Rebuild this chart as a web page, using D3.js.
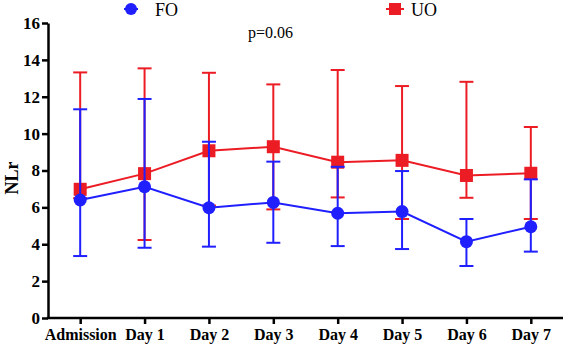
<!DOCTYPE html>
<html>
<head>
<meta charset="utf-8">
<script src="https://cdn.jsdelivr.net/npm/d3@7"></script>
<style>
  html, body { margin: 0; padding: 0; background: #fff; }
  svg, svg text { font-family: 'Liberation Serif', 'Times New Roman', serif !important; }
</style>
</head>
<body>
<div id="chart"></div>
<script>
// days on the x axis
const days = ['Admission', 'Day 1', 'Day 2', 'Day 3', 'Day 4', 'Day 5', 'Day 6', 'Day 7'];

// FO group: mean with lower / upper error limits
const foMean = [6.4, 7.12, 5.98, 6.27, 5.68, 5.77, 4.14, 4.95];
const foLow = [3.36, 3.81, 3.87, 4.08, 3.9, 3.74, 2.82, 3.6];
const foHigh = [11.32, 11.88, 9.56, 8.48, 8.2, 7.97, 5.37, 7.52];

// UO group
const uoMean = [6.98, 7.83, 9.07, 9.29, 8.45, 8.55, 7.73, 7.85];
const uoLow = [6.5, 4.23, 6.1, 5.89, 6.54, 5.37, 6.52, 5.37];
const uoHigh = [13.32, 13.54, 13.3, 12.67, 13.45, 12.58, 12.81, 10.36];

const yTicks = [0, 2, 4, 6, 8, 10, 12, 14, 16];

const width = 566;
const height = 348;
const margin = { top: 23, right: 3, bottom: 30, left: 48 };

const blue = '#1f1fff';
const red = '#ec1c24';

const svg = d3.select('#chart')
  .append('svg')
  .attr('width', width)
  .attr('height', height);

const x = d3.scalePoint()
  .domain(days)
  .range([margin.left, width - margin.right])
  .padding(0.5);

const y = d3.scaleLinear()
  .domain([0, 16])
  .range([height - margin.bottom, margin.top]);

// axes
svg.append('g')
  .attr('transform', `translate(${margin.left},0)`)
  .call(d3.axisLeft(y).tickValues(yTicks).tickSize(6).tickSizeOuter(0))
  .call((g) => g.select('.domain').attr('stroke', '#000').attr('stroke-width', 2.5))
  .call((g) => g.selectAll('.tick line').attr('stroke', '#000').attr('stroke-width', 2.5))
  .call((g) => g.selectAll('.tick text')
    .attr('font-weight', 'bold')
    .attr('font-size', 17)
    .attr('fill', '#000')
    .attr('x', -8));

svg.append('g')
  .attr('transform', `translate(0,${height - margin.bottom})`)
  .call(d3.axisBottom(x).tickSize(6).tickSizeOuter(0))
  .call((g) => g.select('.domain').attr('stroke', '#000').attr('stroke-width', 2.5)
    .attr('d', `M${margin.left - 1.25},0H${width - margin.right}`))
  .call((g) => g.selectAll('.tick line').attr('stroke', '#000').attr('stroke-width', 2.5))
  .call((g) => g.selectAll('.tick text')
    .attr('font-weight', 'bold')
    .attr('font-size', 16)
    .attr('fill', '#000')
    .attr('y', 11));

// y label
svg.append('text')
  .attr('transform', `translate(18,${178}) rotate(-90)`)
  .attr('text-anchor', 'middle')
  .attr('font-weight', 'bold')
  .attr('font-size', 18)
  .text('NLr');

function drawSeries(mean, low, high, color, shape) {
  const g = svg.append('g');
  const cap = 7;

  days.forEach((d, i) => {
    const cx = x(d);
    g.append('line')
      .attr('x1', cx).attr('x2', cx)
      .attr('y1', y(low[i])).attr('y2', y(high[i]))
      .attr('stroke', color).attr('stroke-width', 2);
    [low[i], high[i]].forEach((v) => {
      g.append('line')
        .attr('x1', cx - cap).attr('x2', cx + cap)
        .attr('y1', y(v)).attr('y2', y(v))
        .attr('stroke', color).attr('stroke-width', 2);
    });
  });

  g.append('path')
    .datum(mean)
    .attr('fill', 'none')
    .attr('stroke', color)
    .attr('stroke-width', 2)
    .attr('d', d3.line().x((v, i) => x(days[i])).y((v) => y(v)));

  if (shape === 'circle') {
    g.selectAll('circle')
      .data(mean)
      .join('circle')
      .attr('cx', (v, i) => x(days[i]))
      .attr('cy', (v) => y(v))
      .attr('r', 6.5)
      .attr('fill', color);
  } else {
    g.selectAll('rect')
      .data(mean)
      .join('rect')
      .attr('x', (v, i) => x(days[i]) - 6.5)
      .attr('y', (v) => y(v) - 6.5)
      .attr('width', 13)
      .attr('height', 13)
      .attr('fill', color);
  }
}

drawSeries(uoMean, uoLow, uoHigh, red, 'square');
drawSeries(foMean, foLow, foHigh, blue, 'circle');

// legend
const legend = svg.append('g').attr('font-size', 18);

legend.append('line')
  .attr('x1', 124).attr('x2', 138).attr('y1', 9).attr('y2', 9)
  .attr('stroke', blue).attr('stroke-width', 2);
legend.append('circle')
  .attr('cx', 131).attr('cy', 9).attr('r', 6)
  .attr('fill', blue);
legend.append('text')
  .attr('x', 155).attr('y', 16)
  .text('FO');

legend.append('line')
  .attr('x1', 386).attr('x2', 404).attr('y1', 9).attr('y2', 9)
  .attr('stroke', red).attr('stroke-width', 2);
legend.append('rect')
  .attr('x', 389).attr('y', 3).attr('width', 12).attr('height', 12)
  .attr('fill', red);
legend.append('text')
  .attr('x', 411).attr('y', 16)
  .text('UO');

svg.append('text')
  .attr('x', 248).attr('y', 38)
  .attr('font-size', 16)
  .text('p=0.06');
</script>
</body>
</html>
